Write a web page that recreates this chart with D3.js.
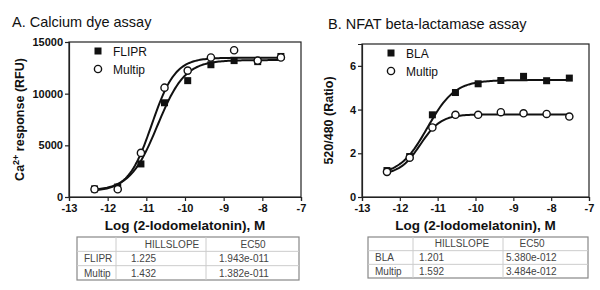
<!DOCTYPE html>
<html><head><meta charset="utf-8">
<script src="https://cdn.jsdelivr.net/npm/d3@7"></script>
<style>
body{margin:0;background:#fff;}
svg text{font-family:"Liberation Sans",Arial,sans-serif;}
</style></head>
<body><svg id="c" width="600" height="290"></svg>
<script>
// Shared concentrations (log M)
const logConc = [-12.34, -11.74, -11.14, -10.53, -9.93, -9.33, -8.73, -8.12, -7.52];
// Panel A: Calcium dye assay (RFU)
const flipr = [780, 970, 3200, 9120, 11260, 12800, 13200, 13100, 13600];
const multipA = [750, 750, 4270, 10580, 12230, 13500, 14200, 13200, 13500];
// Panel B: NFAT beta-lactamase (ratio)
const bla = [1.21, 1.85, 3.76, 4.78, 5.18, 5.33, 5.52, 5.32, 5.44];
const multipB = [1.15, 1.80, 3.18, 3.76, 3.76, 3.88, 3.83, 3.80, 3.68];
// Fit parameters (table) + estimated bottom/top
const seriesA = ["FLIPR", "Multip"];
const hillA = [1.225, 1.432];
const ec50A = ["1.943e-011", "1.382e-011"];
const bottomA = [600, 550];
const topA = [13250, 13480];
const seriesB = ["BLA", "Multip"];
const hillB = [1.201, 1.592];
const ec50B = ["5.380e-012", "3.484e-012"];
const bottomB = [1.0, 1.02];
const topB = [5.35, 3.78];
const xTicks = [-13, -12, -11, -10, -9, -8, -7];
const yTicksA = [0, 5000, 10000, 15000];
const yTicksB = [0, 2, 4, 6];

const svg = d3.select("#c");

function panel(o){
  const g = svg.append("g");
  const x = d3.scaleLinear().domain([-13, -7]).range([o.left, o.right]);
  const y = d3.scaleLinear().domain(o.ydom).range([o.bottom, o.top]);
  // frame
  g.append("rect").attr("x", o.left).attr("y", o.top).attr("width", o.right - o.left)
    .attr("height", o.bottom - o.top).attr("fill", "none").attr("stroke", "#222").attr("stroke-width", 1.2);
  const xa = g.append("g").attr("transform", `translate(0,${o.bottom})`)
    .call(d3.axisBottom(x).tickValues(xTicks).tickSize(4).tickPadding(3).tickFormat(d => String(d)));
  const ya = g.append("g").attr("transform", `translate(${o.left},0)`)
    .call(d3.axisLeft(y).tickValues(o.yticks).tickSize(4).tickPadding(2).tickFormat(d => String(d)));
  [xa, ya].forEach(a => {
    a.select(".domain").attr("stroke", "#222").attr("stroke-width", 1.2);
    a.selectAll(".tick line").attr("stroke", "#222").attr("stroke-width", 1.2);
    a.selectAll("text").attr("font-size", 11).attr("font-weight", "bold").attr("fill", "#111")
      .attr("font-family", "Liberation Sans, Arial, sans-serif");
  });
  // curves
  const xs = d3.range(0, 121).map(i => logConc[0] + (logConc[logConc.length - 1] - logConc[0]) * i / 120);
  o.fits.forEach(f => {
    const le = Math.log10(+f.ec50);
    const pts = xs.map(v => [v, f.bottom + (f.top - f.bottom) / (1 + Math.pow(10, (le - v) * f.hill))]);
    g.append("path").attr("d", d3.line().x(d => x(d[0])).y(d => y(d[1]))(pts))
      .attr("fill", "none").attr("stroke", "#111").attr("stroke-width", 2);
  });
  // points
  o.series.forEach((s, si) => {
    s.vals.forEach((v, i) => {
      if (s.filled) {
        g.append("rect").attr("x", x(logConc[i]) - 3.5).attr("y", y(v) - 3.5).attr("width", 7).attr("height", 7).attr("fill", "#111");
      } else {
        g.append("circle").attr("cx", x(logConc[i])).attr("cy", y(v)).attr("r", 3.6).attr("fill", "#fff").attr("stroke", "#111").attr("stroke-width", 1.4);
      }
    });
  });
  // legend
  const lx = o.left + 29, ly = o.top + 9;
  g.append("rect").attr("x", lx - 3.5).attr("y", ly - 3.5).attr("width", 7).attr("height", 7).attr("fill", "#111");
  g.append("text").attr("x", lx + 15).attr("y", ly + 4.5).attr("font-size", 12).attr("fill", "#111").text(o.names[0]);
  g.append("circle").attr("cx", lx).attr("cy", ly + 18).attr("r", 3.6).attr("fill", "#fff").attr("stroke", "#111").attr("stroke-width", 1.4);
  g.append("text").attr("x", lx + 15).attr("y", ly + 22.5).attr("font-size", 12).attr("fill", "#111").text(o.names[1]);
  // title
  g.append("text").attr("x", o.titleX).attr("y", o.titleY).attr("font-size", 14.5).attr("fill", "#111").text(o.title);
  // x label
  g.append("text").attr("x", (o.left + o.right) / 2).attr("y", o.bottom + 33).attr("text-anchor", "middle")
    .attr("font-size", 13.5).attr("font-weight", "bold").attr("fill", "#111").text("Log (2-Iodomelatonin), M");
  // y label
  const yl = g.append("text").attr("transform", `translate(${o.ylabX},${(o.top + o.bottom) / 2}) rotate(-90)`)
    .attr("text-anchor", "middle").attr("font-size", 12.5).attr("font-weight", "bold").attr("fill", "#111");
  o.ylab(yl);
  // table
  const t = o.table;
  const tg = g.append("g");
  tg.append("rect").attr("x", t.x0).attr("y", t.y0).attr("width", t.x1 - t.x0).attr("height", t.y1 - t.y0)
    .attr("fill", "none").attr("stroke", "#888").attr("stroke-width", 1.2);
  const rh = (t.y1 - t.y0) / 3;
  [1, 2].forEach(r => tg.append("line").attr("x1", t.x0).attr("x2", t.x1).attr("y1", t.y0 + rh * r).attr("y2", t.y0 + rh * r).attr("stroke", "#ccc"));
  t.cols.forEach(c => tg.append("line").attr("x1", c).attr("x2", c).attr("y1", t.y0).attr("y2", t.y1).attr("stroke", "#ccc"));
  const tt = (xx, yy, s, anchor) => tg.append("text").attr("x", xx).attr("y", yy).attr("font-size", 10).attr("fill", "#444")
    .attr("text-anchor", anchor || "start").text(s);
  tt(t.hx, t.y0 + rh - 3.5, "HILLSLOPE", "middle");
  tt(t.ex, t.y0 + rh - 3.5, "EC50", "middle");
  o.names.forEach((n, i) => {
    const yy = t.y0 + rh * (i + 2) - 3.5;
    tt(t.lx, yy, n);
    tt(t.vx, yy, o.fits[i].hill.toFixed(3));
    tt(t.ecx, yy, o.fits[i].ec50s);
  });
}

panel({
  left: 69, right: 301, top: 42, bottom: 197, ydom: [0, 15000], yticks: yTicksA,
  names: seriesA, title: "A. Calcium dye assay", titleX: 12, titleY: 27,
  series: [{vals: flipr, filled: true}, {vals: multipA, filled: false}],
  fits: seriesA.map((n, i) => ({hill: hillA[i], ec50: ec50A[i].replace("e-0", "e-"), ec50s: ec50A[i], bottom: bottomA[i], top: topA[i]})),
  ylabX: 24,
  ylab: t => { t.append("tspan").text("Ca"); t.append("tspan").attr("dy", -5).attr("font-size", 9).text("2+");
    t.append("tspan").attr("dy", 5).text(" response (RFU)"); },
  table: {x0: 77, x1: 299, y0: 237, y1: 280, cols: [116, 206], hx: 172, ex: 253, lx: 84, vx: 131, ecx: 219}
});
panel({
  left: 362, right: 589, top: 44, bottom: 197, ydom: [0, 7], yticks: yTicksB,
  names: seriesB, title: "B. NFAT beta-lactamase assay", titleX: 328, titleY: 29,
  series: [{vals: bla, filled: true}, {vals: multipB, filled: false}],
  fits: seriesB.map((n, i) => ({hill: hillB[i], ec50: ec50B[i].replace("e-0", "e-"), ec50s: ec50B[i], bottom: bottomB[i], top: topB[i]})),
  ylabX: 333,
  ylab: t => t.text("520/480 (Ratio)"),
  table: {x0: 368, x1: 588, y0: 237, y1: 278, cols: [413, 503], hx: 462, ex: 532, lx: 375, vx: 419, ecx: 506}
});
</script></body></html>
